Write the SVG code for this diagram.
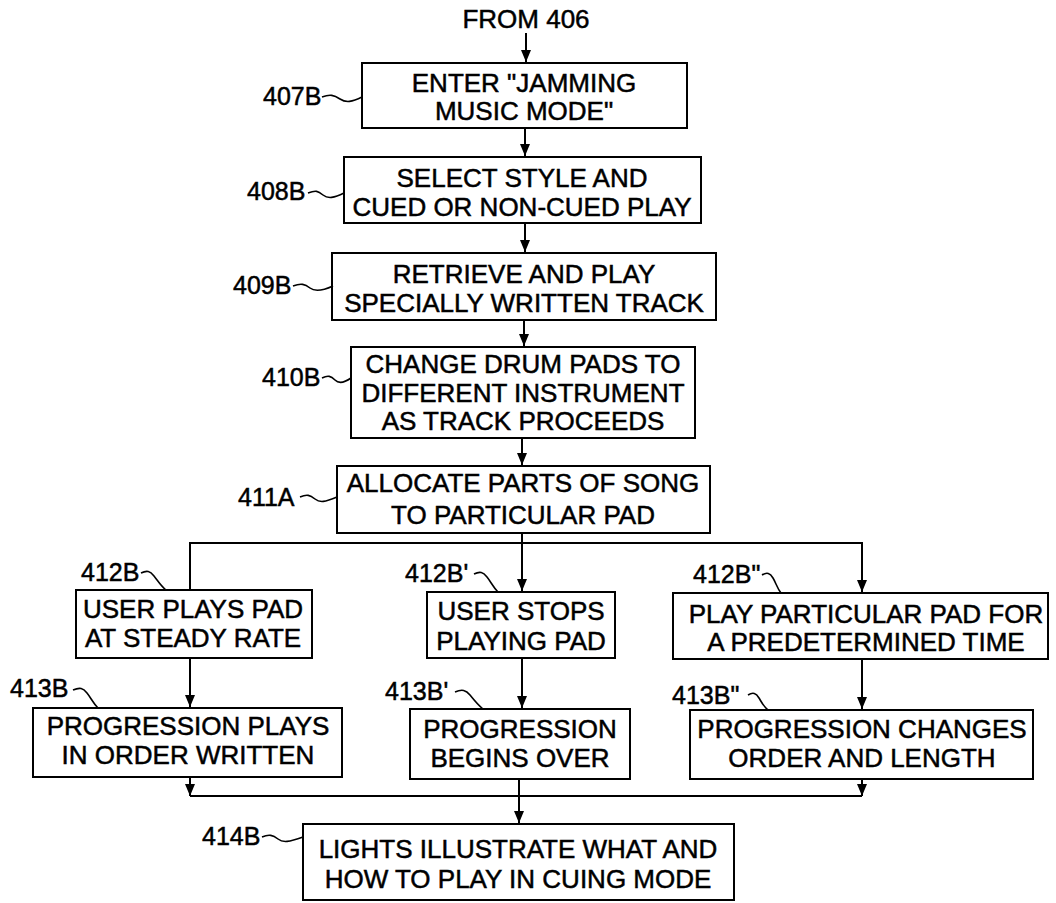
<svg xmlns="http://www.w3.org/2000/svg" width="1056" height="903" viewBox="0 0 1056 903">
<style>
  .box { fill: #fff; stroke: #000; stroke-width: 2; }
  .t { font-family: "Liberation Sans", Arial, sans-serif; font-size: 26px; fill: #000; stroke: #000; stroke-width: 0.5; text-anchor: middle; }
  .lbl { font-family: "Liberation Sans", Arial, sans-serif; font-size: 25px; fill: #000; stroke: #000; stroke-width: 0.5; }
  .ln { fill: none; stroke: #000; stroke-width: 2; }
  .ld { fill: none; stroke: #000; stroke-width: 1.6; }
</style>
<defs>
  <marker id="ah" markerUnits="userSpaceOnUse" markerWidth="12" markerHeight="12" viewBox="0 0 12 12" refX="12" refY="6" orient="auto">
    <path d="M0,1 L12,6 L0,11 Z" fill="#000"/>
  </marker>
</defs>
<rect width="1056" height="903" fill="#fff"/>

<g id="connectors">
  <line class="ln" x1="526" y1="33" x2="526" y2="62" marker-end="url(#ah)"/>
  <line class="ln" x1="525" y1="128" x2="525" y2="156" marker-end="url(#ah)"/>
  <line class="ln" x1="525" y1="224" x2="525" y2="252" marker-end="url(#ah)"/>
  <line class="ln" x1="524" y1="320" x2="524" y2="346" marker-end="url(#ah)"/>
  <line class="ln" x1="522" y1="438" x2="522" y2="465" marker-end="url(#ah)"/>
  <line class="ln" x1="522" y1="533" x2="522" y2="591" marker-end="url(#ah)"/>
  <polyline class="ln" points="190,589 190,543 862,543 862,592" marker-end="url(#ah)"/>
  <line class="ln" x1="190" y1="658" x2="190" y2="707" marker-end="url(#ah)"/>
  <line class="ln" x1="522" y1="658" x2="522" y2="708" marker-end="url(#ah)"/>
  <line class="ln" x1="862" y1="659" x2="862" y2="709" marker-end="url(#ah)"/>
  <line class="ln" x1="190" y1="777" x2="190" y2="796" marker-end="url(#ah)"/>
  <line class="ln" x1="862" y1="779" x2="862" y2="796" marker-end="url(#ah)"/>
  <line class="ln" x1="190" y1="796" x2="862" y2="796"/>
  <line class="ln" x1="519" y1="779" x2="519" y2="823" marker-end="url(#ah)"/>
</g>

<text class="t" x="526" y="28" id="from406">FROM 406</text>

<g id="n407B">
  <rect class="box" x="362" y="63" width="325" height="65"/>
  <text class="t" x="524" y="92">ENTER "JAMMING</text>
  <text class="t" x="524" y="120">MUSIC MODE"</text>
  <text class="lbl" x="263" y="105">407B</text>
  <path class="ld" d="M322,97 c8,-3 12,-2 18,2 s12,3 22,-2"/>
</g>

<g id="n408B">
  <rect class="box" x="344" y="157" width="357" height="66"/>
  <text class="t" x="522" y="187">SELECT STYLE AND</text>
  <text class="t" x="522" y="216">CUED OR NON-CUED PLAY</text>
  <text class="lbl" x="247" y="200">408B</text>
  <path class="ld" d="M308,193 c8,-3 10,-2 15,2 s11,3 21,-2"/>
</g>

<g id="n409B">
  <rect class="box" x="332" y="253" width="384" height="67"/>
  <text class="t" x="524" y="283">RETRIEVE AND PLAY</text>
  <text class="t" x="524" y="312">SPECIALLY WRITTEN TRACK</text>
  <text class="lbl" x="233" y="294">409B</text>
  <path class="ld" d="M293,286 c8,-3 12,-2 17,2 s12,3 23,-2"/>
</g>

<g id="n410B">
  <rect class="box" x="351" y="347" width="344" height="91"/>
  <text class="t" x="523" y="373">CHANGE DRUM PADS TO</text>
  <text class="t" x="523" y="402">DIFFERENT INSTRUMENT</text>
  <text class="t" x="523" y="430">AS TRACK PROCEEDS</text>
  <text class="lbl" x="262" y="386">410B</text>
  <path class="ld" d="M322,378 c6,-3 9,-2 13,2 s9,3 16,-2"/>
</g>

<g id="n411A">
  <rect class="box" x="337" y="466" width="373" height="67"/>
  <text class="t" x="523" y="492">ALLOCATE PARTS OF SONG</text>
  <text class="t" x="523" y="524">TO PARTICULAR PAD</text>
  <text class="lbl" x="238" y="506">411A</text>
  <path class="ld" d="M300,497 c7,-3 10,-2 15,2 s10,3 22,-2"/>
</g>

<g id="n412B">
  <rect class="box" x="76" y="590" width="236" height="68"/>
  <text class="t" x="193" y="618">USER PLAYS PAD</text>
  <text class="t" x="193" y="647">AT STEADY RATE</text>
  <text class="lbl" x="81" y="581">412B</text>
  <path class="ld" d="M141,573 c6,-3 9,-2 13,3 s7,10 12,14"/>
</g>

<g id="n412B1">
  <rect class="box" x="427" y="592" width="188" height="66"/>
  <text class="t" x="521" y="620">USER STOPS</text>
  <text class="t" x="521" y="650">PLAYING PAD</text>
  <text class="lbl" x="405" y="582">412B'</text>
  <path class="ld" d="M474,574 c6,-3 9,-2 13,3 s6,10 11,15"/>
</g>

<g id="n412B2">
  <rect class="box" x="673" y="593" width="375" height="66"/>
  <text class="t" x="866" y="623">PLAY PARTICULAR PAD FOR</text>
  <text class="t" x="866" y="651">A PREDETERMINED TIME</text>
  <text class="lbl" x="693" y="583">412B"</text>
  <path class="ld" d="M762,575 c5,-3 8,-2 11,3 s4,10 8,15"/>
</g>

<g id="n413B">
  <rect class="box" x="33" y="708" width="309" height="69"/>
  <text class="t" x="188" y="735">PROGRESSION PLAYS</text>
  <text class="t" x="188" y="764">IN ORDER WRITTEN</text>
  <text class="lbl" x="10" y="697">413B</text>
  <path class="ld" d="M73,690 c7,-3 10,-2 14,3 s6,10 11,15"/>
</g>

<g id="n413B1">
  <rect class="box" x="410" y="709" width="220" height="70"/>
  <text class="t" x="520" y="738">PROGRESSION</text>
  <text class="t" x="520" y="767">BEGINS OVER</text>
  <text class="lbl" x="385" y="700">413B'</text>
  <path class="ld" d="M455,692 c7,-3 11,-2 15,3 s8,10 13,14"/>
</g>

<g id="n413B2">
  <rect class="box" x="690" y="710" width="343" height="69"/>
  <text class="t" x="862" y="738">PROGRESSION CHANGES</text>
  <text class="t" x="862" y="767">ORDER AND LENGTH</text>
  <text class="lbl" x="672" y="704">413B"</text>
  <path class="ld" d="M748,695 c5,-3 8,-2 11,3 s5,9 9,12"/>
</g>

<g id="n414B">
  <rect class="box" x="303" y="824" width="431" height="76"/>
  <text class="t" x="518" y="858">LIGHTS ILLUSTRATE WHAT AND</text>
  <text class="t" x="518" y="888">HOW TO PLAY IN CUING MODE</text>
  <text class="lbl" x="202" y="845">414B</text>
  <path class="ld" d="M262,837 c7,-3 11,-2 16,2 s11,3 25,-2"/>
</g>
</svg>
